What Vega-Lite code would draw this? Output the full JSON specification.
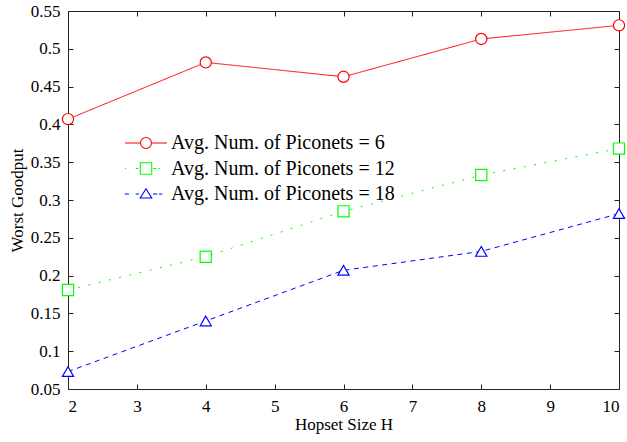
{
  "$schema": "https://vega.github.io/schema/vega-lite/v6.json",
  "width": 551,
  "height": 378,
  "autosize": {"type": "none"},
  "padding": {"left": 68, "top": 11, "right": 8, "bottom": 53},
  "background": "white",
  "view": {"stroke": null},
  "config": {
    "font": "Liberation Serif",
    "axis": {
      "labelFont": "Liberation Serif",
      "labelFontSize": 17,
      "labelColor": "black",
      "titleFont": "Liberation Serif",
      "titleFontSize": 17,
      "titleFontWeight": "normal",
      "titleColor": "black",
      "domainColor": "#222",
      "tickColor": "#222",
      "grid": false,
      "tickSize": -5
    },
    "legend": {
      "labelFont": "Liberation Serif",
      "labelFontSize": 20,
      "labelColor": "black"
    }
  },
  "data": {
    "values": [
      {"H": 2, "series": "Avg. Num. of Piconets = 6", "goodput": 0.407},
      {"H": 4, "series": "Avg. Num. of Piconets = 6", "goodput": 0.482},
      {"H": 6, "series": "Avg. Num. of Piconets = 6", "goodput": 0.463},
      {"H": 8, "series": "Avg. Num. of Piconets = 6", "goodput": 0.513},
      {"H": 10, "series": "Avg. Num. of Piconets = 6", "goodput": 0.531},
      {"H": 2, "series": "Avg. Num. of Piconets = 12", "goodput": 0.181},
      {"H": 4, "series": "Avg. Num. of Piconets = 12", "goodput": 0.225},
      {"H": 6, "series": "Avg. Num. of Piconets = 12", "goodput": 0.285},
      {"H": 8, "series": "Avg. Num. of Piconets = 12", "goodput": 0.333},
      {"H": 10, "series": "Avg. Num. of Piconets = 12", "goodput": 0.368},
      {"H": 2, "series": "Avg. Num. of Piconets = 18", "goodput": 0.073},
      {"H": 4, "series": "Avg. Num. of Piconets = 18", "goodput": 0.140},
      {"H": 6, "series": "Avg. Num. of Piconets = 18", "goodput": 0.207},
      {"H": 8, "series": "Avg. Num. of Piconets = 18", "goodput": 0.232},
      {"H": 10, "series": "Avg. Num. of Piconets = 18", "goodput": 0.282}
    ]
  },
  "layer": [
    {
      "mark": {"type": "line", "strokeWidth": 1},
      "encoding": {
        "x": {
          "field": "H", "type": "quantitative",
          "scale": {"domain": [2, 10], "nice": false, "zero": false},
          "axis": {"orient": "bottom", "title": "Hopset Size H", "values": [2,3,4,5,6,7,8,9,10], "labelPadding": 14, "titlePadding": 2}
        },
        "y": {
          "field": "goodput", "type": "quantitative",
          "scale": {"domain": [0.05, 0.55], "nice": false, "zero": false},
          "axis": {"orient": "left", "title": "Worst Goodput", "format": "~g", "values": [0.05,0.1,0.15,0.2,0.25,0.3,0.35,0.4,0.45,0.5,0.55], "labelPadding": 13, "titlePadding": 4}
        },
        "stroke": {
          "field": "series", "type": "nominal",
          "scale": {"domain": ["Avg. Num. of Piconets = 6", "Avg. Num. of Piconets = 12", "Avg. Num. of Piconets = 18"], "range": ["#ff0000", "#00ff00", "#0000ff"]},
          "legend": null
        },
        "strokeDash": {
          "field": "series", "type": "nominal",
          "scale": {"domain": ["Avg. Num. of Piconets = 6", "Avg. Num. of Piconets = 12", "Avg. Num. of Piconets = 18"], "range": [[1, 0], [2, 8.5], [5, 4.5]]},
          "legend": null
        }
      }
    },
    {
      "mark": {"type": "point", "filled": false, "fill": "white", "fillOpacity": 1, "opacity": 1, "strokeWidth": 1.2, "size": 125},
      "encoding": {
        "x": {"field": "H", "type": "quantitative", "axis": {"orient": "top", "labels": false, "title": null, "values": [2,3,4,5,6,7,8,9,10]}},
        "y": {"field": "goodput", "type": "quantitative", "axis": {"orient": "right", "labels": false, "title": null, "values": [0.05,0.1,0.15,0.2,0.25,0.3,0.35,0.4,0.45,0.5,0.55]}},
        "stroke": {"field": "series", "type": "nominal", "legend": null},
        "shape": {
          "field": "series", "type": "nominal",
          "scale": {"domain": ["Avg. Num. of Piconets = 6", "Avg. Num. of Piconets = 12", "Avg. Num. of Piconets = 18"], "range": ["circle", "square", "triangle-up"]},
          "legend": null
        }
      }
    },
    {
      "mark": {"type": "point", "filled": false, "opacity": 0, "size": 100},
      "encoding": {
        "x": {"field": "H", "type": "quantitative", "axis": null},
        "y": {"field": "goodput", "type": "quantitative", "axis": null},
        "color": {
          "field": "series", "type": "nominal",
          "scale": {"domain": ["Avg. Num. of Piconets = 6", "Avg. Num. of Piconets = 12", "Avg. Num. of Piconets = 18"], "range": ["#ff0000", "#00ff00", "#0000ff"]},
          "legend": {"orient": "none", "legendX": 68, "legendY": 122, "title": null, "symbolSize": 100, "symbolOpacity": 1, "symbolStrokeWidth": 1.1, "labelOffset": 15, "rowPadding": 5.5, "labelLimit": 0, "labelFont": "Liberation Serif", "labelFontSize": 20, "labelColor": "black",
            "encode": {"symbols": {"update": {"opacity": {"value": 1}}}, "labels": {"update": {"fontSize": {"value": 20}, "font": {"value": "Liberation Serif"}, "fill": {"value": "black"}}}}}
        },
        "shape": {
          "field": "series", "type": "nominal",
          "scale": {"domain": ["Avg. Num. of Piconets = 6", "Avg. Num. of Piconets = 12", "Avg. Num. of Piconets = 18"], "range": [
            "M-4.2,0L-1.1,0M1.1,0L4.2,0M1.1,0A1.1,1.1,0,1,1,-1.1,0A1.1,1.1,0,1,1,1.1,0",
            "M-4.2,0L-4,0M-2.06,0L-1.54,0M-1.14,-1.14L1.14,-1.14L1.14,1.14L-1.14,1.14ZM1.46,0L2.06,0M2.46,0L2.74,0",
            "M-4.26,0L-3.4,0M-2.06,0L-1.4,0M0,-1.06L1.15,0.8L-1.15,0.8ZM1.4,0L2.26,0M2.6,0L3.26,0"
          ]},
          "legend": {"orient": "none", "legendX": 68, "legendY": 122, "title": null, "symbolSize": 100, "symbolOpacity": 1, "symbolStrokeWidth": 1.1, "labelOffset": 15, "rowPadding": 5.5, "labelLimit": 0, "labelFont": "Liberation Serif", "labelFontSize": 20, "labelColor": "black",
            "encode": {"symbols": {"update": {"opacity": {"value": 1}}}, "labels": {"update": {"fontSize": {"value": 20}, "font": {"value": "Liberation Serif"}, "fill": {"value": "black"}}}}}
        }
      }
    }
  ],
  "resolve": {
    "scale": {"shape": "independent", "color": "independent"},
    "axis": {"x": "independent", "y": "independent"}
  }
}
